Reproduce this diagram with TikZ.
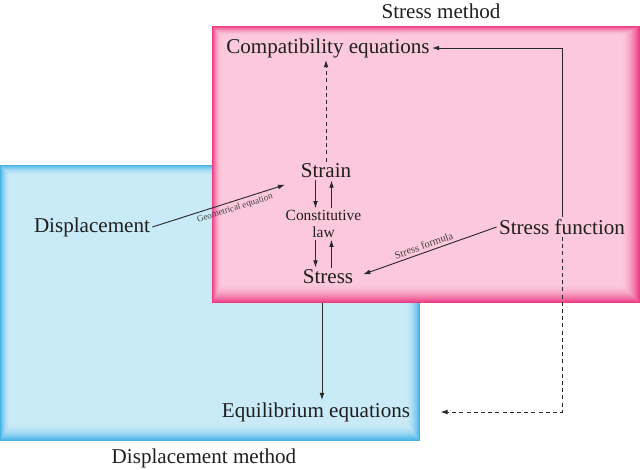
\documentclass[tikz,border=0pt]{standalone}
\usepackage{fontspec}
\setmainfont{Liberation Serif}
\usetikzlibrary{arrows.meta,positioning,calc}
\definecolor{stressedge}{RGB}{236,59,131}
\definecolor{stressfill}{RGB}{252,201,220}
\definecolor{dispedge}{RGB}{69,179,230}
\definecolor{dispfill}{RGB}{201,234,247}
\definecolor{linkgray}{RGB}{40,40,40}

\begin{document}
\begin{tikzpicture}[
    x=0.025cm, y=-0.025cm,
    bigtext/.style={font=\fontsize{15}{17}\selectfont, inner sep=1.5pt, text=black!88},
    midtext/.style={font=\fontsize{11}{12.6}\selectfont, align=center, inner sep=1pt, text=black!88},
    tinytext/.style={font=\fontsize{#1}{8}\selectfont, inner sep=2pt, text=black!75},
    link/.style={draw=linkgray, line width=0.65pt, -{Latex[length=1.8mm,width=1.2mm]}},
    dashlink/.style={link, dash pattern=on 1mm off 0.8mm}
]
    \useasboundingbox (0,0) rectangle (640,469);

    % glowing frames
    \foreach \i [evaluate=\i as \p using {int(100*(1-\i/18)^2)}] in {0,...,18}
        \fill[dispedge!\p!dispfill] ({0.6*\i},{165+0.6*\i}) rectangle ({420-0.8*\i},{441-\i});
    \foreach \i [evaluate=\i as \p using {int(100*(1-\i/20)^2)}] in {0,...,20}
        \fill[stressedge!\p!stressfill] ({212+0.5*\i},{26+0.5*\i}) rectangle ({640-\i},{303-\i});
    \coordinate (framebottom) at (322,303);

    % titles
    \node[bigtext] (stresstitle) at (441,11) {Stress method};
    \node[bigtext] (disptitle) at (204,458) {Displacement method};

    % quantities
    \node[bigtext] (compat) at (328,48) {Compatibility equations};
    \node[bigtext] (strain) at (326,171) {Strain};
    \node[midtext] (law) at (323.5,224) {Constitutive\\law};
    \node[bigtext] (stress) at (328,277) {Stress};
    \node[bigtext] (disp) at (92,227) {Displacement};
    \node[bigtext] (stressfun) at (562,227) {Stress function};
    \node[bigtext] (equil) at (316,412) {Equilibrium equations};

    % connections
    \draw[link, shorten >=3.5mm] (disp.east) -- node[tinytext=6.5, sloped, below, pos=0.55] {Geometrical equation} (strain.south west);
    \draw[link, shorten >=2mm] (stressfun.west) -- node[tinytext=7.5, sloped, above, pos=0.5] {Stress formula} (stress.east);
    \draw[link] ([xshift=-2mm]law.north |- strain.south) -- ([xshift=-2mm]law.north);
    \draw[link] ([xshift=2mm]law.north) -- ([xshift=2mm]law.north |- strain.south);
    \draw[link] ([xshift=-2mm]law.south) -- ([xshift=-2mm]law.south |- stress.north);
    \draw[link] ([xshift=2mm]law.south |- stress.north) -- ([xshift=2mm]law.south);
    \draw[dashlink] (strain.north) -- (strain.north |- compat.south);
    \draw[link] (stressfun.north) |- (compat.east);
    \draw[link] (framebottom) -- (framebottom |- equil.north);
    \draw[dashlink, shorten >=7mm] (stressfun.south) |- (equil.east);
\end{tikzpicture}
\end{document}
